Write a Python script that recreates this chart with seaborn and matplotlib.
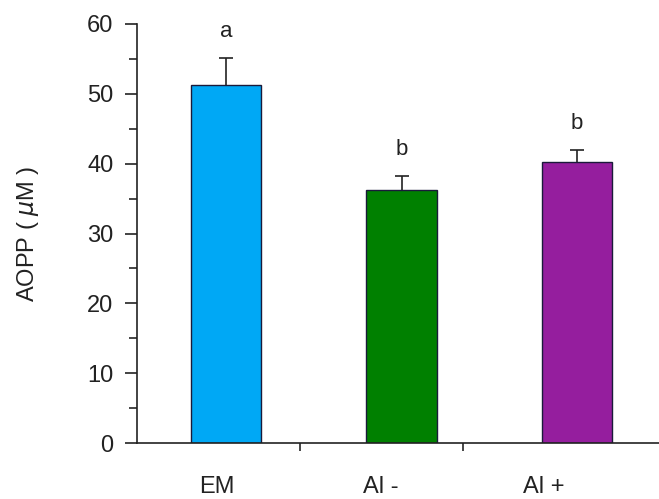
import matplotlib
matplotlib.use("Agg")
import matplotlib.pyplot as plt
import seaborn as sns
import pandas as pd
import numpy as np

# data
groups = ["EM", "Al -", "Al +"]
aopp = [51.2, 36.3, 40.3]
sem = [3.9, 1.9, 1.6]
letters = ["a", "b", "b"]
colors = ["#00A8F5", "#008000", "#951E9E"]

df = pd.DataFrame({"group": groups, "aopp": aopp})

sns.set_style("white")
plt.rcParams["font.family"] = ["Liberation Sans", "DejaVu Sans"]

fig = plt.figure(figsize=(6.59, 4.99), dpi=100)
ax = fig.add_axes([137 / 659, 56 / 499, 1 - 137 / 659, 419 / 499])

sns.barplot(data=df, x="group", y="aopp", hue="group", palette=colors,
            order=groups, legend=False, width=0.40, ax=ax,
            edgecolor="#1a1a3a", linewidth=1.0, saturation=1)

# upper error bars only
x = np.arange(len(groups))
eb = ax.errorbar(x, aopp, yerr=[np.zeros(len(sem)), sem], fmt="none",
                 ecolor="#222222", elinewidth=1.2, capsize=5, capthick=1.2)
eb[1][0].remove()

for xi, m, s, lab in zip(x, aopp, sem, letters):
    ax.annotate(lab, (xi, m + s), xytext=(0, 12), textcoords="offset points",
                ha="center", va="bottom", fontsize=16, color="#222222")

ax.set_ylim(0, 60)
ax.set_xlim(-0.51, 2.47)
ax.set_yticks(range(0, 61, 10))
ax.set_yticks(range(5, 60, 10), minor=True)
ax.tick_params(axis="y", which="major", left=True, length=9, width=1.2,
               labelsize=17, pad=8, colors="#222222")
ax.tick_params(axis="y", which="minor", left=True, length=6, width=1.2)

# category labels sit slightly left of the bars, boundary ticks between them
ax.set_xticks([-0.055, 0.88, 1.81], groups)
ax.set_xticks([0.42, 1.35], minor=True)
ax.tick_params(axis="x", which="major", bottom=False, labelsize=17, pad=20,
               colors="#222222")
ax.tick_params(axis="x", which="minor", bottom=True, length=6, width=1.2)

ax.set_xlabel("")
ax.set_ylabel(r"AOPP ( $\mu$M )", fontsize=17, color="#222222", labelpad=33)

for side in ["top", "right"]:
    ax.spines[side].set_visible(False)
for side in ["left", "bottom"]:
    ax.spines[side].set_color("#222222")
    ax.spines[side].set_linewidth(1.2)

fig.savefig("out.png", dpi=100)
